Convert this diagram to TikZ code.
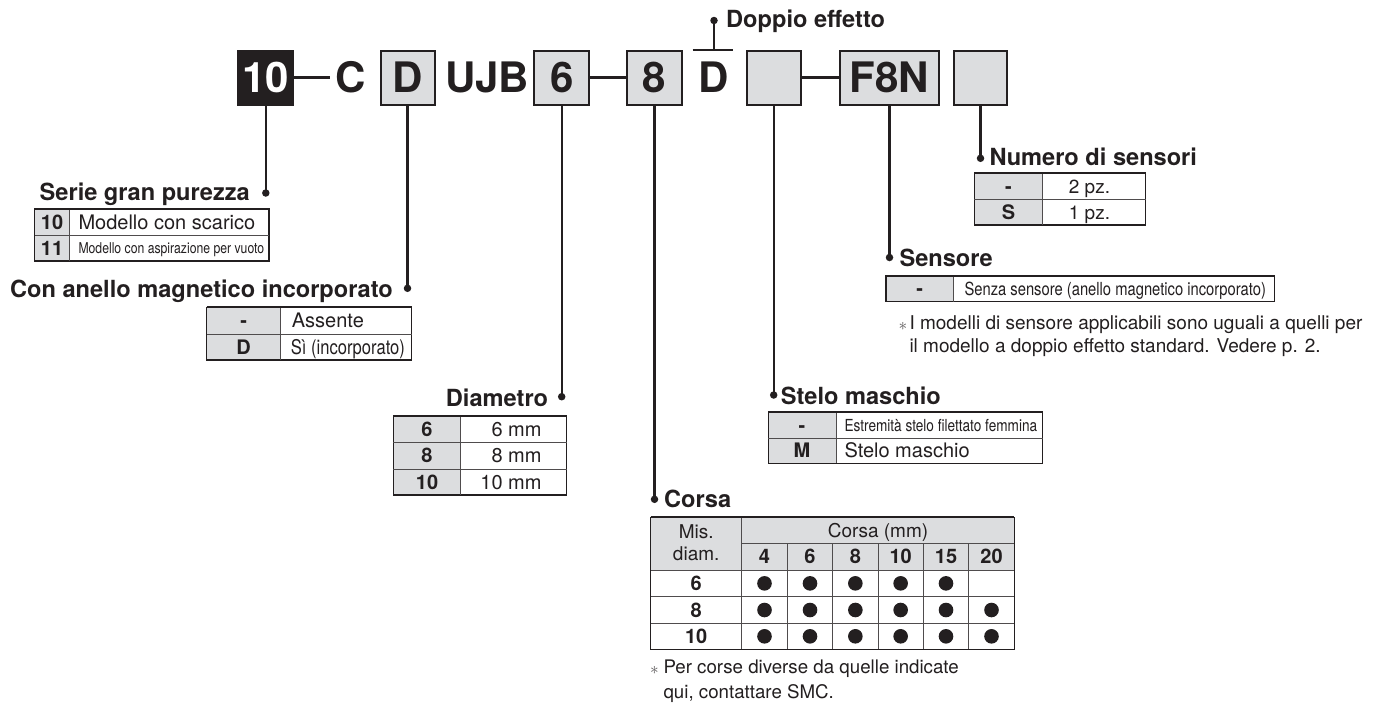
\documentclass[tikz,border=0pt]{standalone}
\usepackage{fontspec}
\setmainfont{TeX Gyre Heros}
\newfontfamily\condfont{TeX Gyre Heros}[FakeStretch=0.82]
\definecolor{ink}{HTML}{231F20}
\definecolor{cellgray}{HTML}{DCDDDF}
\begin{document}
\begin{tikzpicture}[x=1pt,y=-1pt,
  conn/.style={draw=ink, line width=2.2pt},
  knob/.style={circle, fill=ink, inner sep=0pt, minimum size=7.5pt},
  codebox/.style={draw=ink, line width=2pt, fill=cellgray, inner sep=0pt,
    minimum height=54pt, text height=30pt, text depth=0pt,
    font=\fontsize{42}{42}\selectfont\bfseries, text=ink},
  codechar/.style={inner ysep=0pt, inner xsep=5pt, text height=30pt, text depth=0pt,
    font=\fontsize{42}{42}\selectfont\bfseries, text=ink},
  heading/.style={inner sep=0pt, font=\fontsize{23.6}{25}\selectfont\bfseries, text=ink},
  cell/.style={inner sep=0pt, text height=14pt, text depth=0pt,
    font=\fontsize{20}{21}\selectfont, text=ink},
  bcell/.style={cell, font=\fontsize{20}{21}\selectfont\bfseries},
  fnote/.style={inner sep=0pt, anchor=base west, font=\fontsize{19}{22}\selectfont, text=ink},
  star/.style={inner sep=0pt, text=ink!75, font=\fontsize{17}{17}\selectfont},
  tabrule/.style={draw=ink, line width=1.1pt},
  innerrule/.style={draw=ink!80, line width=1pt},
  topline/.style={draw=ink, line width=1.8pt},
]
\fill[white] (0,0) rectangle (1374,702);
\useasboundingbox (0,0) rectangle (1374,702);

% ---------- model code ----------
\node[codebox, fill=ink, text=white, minimum width=55pt] (b10) at (265.8,77.5) {10};
\node[codechar] (cC) at (350.8,77.5) {C};
\node[codebox, minimum width=54pt] (bD) at (407.5,77.5) {D};
\node[codechar] (cUJB) at (487.3,77.5) {UJB};
\node[codebox, minimum width=55pt] (b6) at (561.7,77.5) {6};
\node[codebox, minimum width=54.5pt] (b8) at (654.5,77.5) {8};
\node[codechar] (cD) at (714,77.5) {D};
\node[codebox, minimum width=54pt] (bE) at (773.7,77.5) {};
\node[codebox, minimum width=99pt] (bF) at (889.5,77.5) {F8N};
\node[codebox, minimum width=52.4pt] (bL) at (980.5,77.5) {};

\draw[conn] (b10.east) -- (cC.west);
\draw[conn] (b6.east) -- (b8.west);
\draw[conn] (bE.east) -- (bF.west);

% fixed letter D: double acting
\coordinate (barL) at (692.7,50);
\coordinate (barR) at (732.7,50);
\coordinate (barM) at (714,50);
\draw[conn] (barL) -- (barR);
\node[knob] (kDop) at (714,20.5) {};
\draw[conn] (barM) -- (kDop.center);
\node[heading, anchor=base west] (tDop) at (726,27.3) {Doppio effetto};

% ---------- headings and leaders ----------
\node[knob] (kSerie) at (265.8,193) {};
\node[heading, anchor=base east] (tSerie) at (250,200.7) {Serie gran purezza};
\node[knob] (kMag) at (407.5,288.3) {};
\node[heading, anchor=base east] (tMag) at (393,297) {Con anello magnetico incorporato};
\node[knob] (kDia) at (561.7,396.7) {};
\node[heading, anchor=base east] (tDia) at (548.3,406) {Diametro};
\node[knob] (kCor) at (654.5,499.3) {};
\node[heading, anchor=base west] (tCor) at (664,507.7) {Corsa};
\node[knob] (kSte) at (773.7,395) {};
\node[heading, anchor=base west] (tSte) at (780.7,404) {Stelo maschio};
\node[knob] (kSen) at (889.5,257.5) {};
\node[heading, anchor=base west] (tSen) at (899.3,266.7) {Sensore};
\node[knob] (kNum) at (980.5,158.3) {};
\node[heading, anchor=base west] (tNum) at (989.3,165) {Numero di sensori};

\draw[conn] (b10.south) -- (kSerie.center);
\draw[conn] (bD.south) -- (kMag.center);
\draw[conn] (b6.south) -- (kDia.center);
\draw[conn] (b8.south) -- (kCor.center);
\draw[conn] (bE.south) -- (kSte.center);
\draw[conn] (bF.south) -- (kSen.center);
\draw[conn] (bL.south) -- (kNum.center);

% ---------- Serie gran purezza ----------
\fill[cellgray] (34.7,209) rectangle (69.3,261);
\draw[tabrule] (34.7,209) rectangle (269,261);
\draw[innerrule] (34.7,235.7) -- (269,235.7) (69.3,209) -- (69.3,261);
\draw[topline] (34.7,209) -- (269,209);
\node[bcell] at (52,222.3) {10};
\node[cell, anchor=west] at (78.3,222.3) {Modello con scarico};
\node[bcell] at (52,248.3) {11};
\node[cell, anchor=west, font=\condfont\fontsize{14.9}{15}\selectfont, text height=10.7pt] at (78.3,248.3) {Modello con aspirazione per vuoto};

% ---------- Con anello magnetico incorporato ----------
\fill[cellgray] (206.7,307.3) rectangle (280.7,360);
\draw[tabrule] (206.7,307.3) rectangle (411.7,360);
\draw[innerrule] (206.7,334.3) -- (411.7,334.3) (280.7,307.3) -- (280.7,360);
\draw[topline] (206.7,307.3) -- (411.7,307.3);
\node[bcell] at (243.7,320.8) {-};
\node[cell, anchor=west] at (291.7,320.8) {Assente};
\node[bcell] at (243.7,347.2) {D};
\node[cell, anchor=west, font=\condfont\fontsize{20.2}{21}\selectfont, text height=14.5pt] at (290.7,347.2) {Sì (incorporato)};

% ---------- Diametro ----------
\fill[cellgray] (393.3,415.7) rectangle (460.7,495);
\draw[tabrule] (393.3,415.7) rectangle (566.7,495);
\draw[innerrule] (393.3,442.3) -- (566.7,442.3) (393.3,469) -- (566.7,469) (460.7,415.7) -- (460.7,495);
\draw[topline] (393.3,415.7) -- (566.7,415.7);
\node[bcell] at (427,429) {6};
\node[cell, anchor=east] at (541.7,429) {6 mm};
\node[bcell] at (427,455.7) {8};
\node[cell, anchor=east] at (541.7,455.7) {8 mm};
\node[bcell] at (427,482) {10};
\node[cell, anchor=east] at (541.7,482) {10 mm};

% ---------- Stelo maschio ----------
\fill[cellgray] (768.3,411.7) rectangle (836,463.3);
\draw[tabrule] (768.3,411.7) rectangle (1042.7,463.3);
\draw[innerrule] (768.3,438.3) -- (1042.7,438.3) (836,411.7) -- (836,463.3);
\draw[topline] (768.3,411.7) -- (1042.7,411.7);
\node[bcell] at (802,425) {-};
\node[cell, anchor=west, font=\condfont\fontsize{16.6}{17}\selectfont, text height=12pt] at (844.3,425) {Estremità stelo filettato femmina};
\node[bcell] at (802,450.8) {M};
\node[cell, anchor=west] at (844.3,450.8) {Stelo maschio};

% ---------- Numero di sensori ----------
\fill[cellgray] (974.3,172.7) rectangle (1042.7,225);
\draw[tabrule] (974.3,172.7) rectangle (1145.7,225);
\draw[innerrule] (974.3,199.7) -- (1145.7,199.7) (1042.7,172.7) -- (1042.7,225);
\draw[topline] (974.3,172.7) -- (1145.7,172.7);
\node[bcell] at (1008.5,186.2) {-};
\node[cell, font=\fontsize{19}{20}\selectfont] at (1089.5,186.2) {2 pz.};
\node[bcell] at (1008.5,212.3) {S};
\node[cell, font=\fontsize{19}{20}\selectfont] at (1089.5,212.3) {1 pz.};

% ---------- Sensore ----------
\fill[cellgray] (886,275.7) rectangle (953.3,301.7);
\draw[tabrule] (886,275.7) rectangle (1274.3,301.7);
\draw[innerrule] (953.3,275.7) -- (953.3,301.7);
\draw[topline] (886,275.7) -- (1274.3,275.7);
\node[bcell] at (919.7,288.7) {-};
\node[cell, anchor=west, font=\condfont\fontsize{18}{18}\selectfont, text height=13pt] at (964.3,288.7) {Senza sensore (anello magnetico incorporato)};
\node[star] at (903,326) {$\ast$};
\node[fnote] at (909.3,329) {I modelli di sensore applicabili sono uguali a quelli per};
\node[fnote] at (909.3,352.3) {il modello a doppio effetto standard. Vedere p. 2.};

% ---------- Corsa ----------
\fill[cellgray] (650.7,517.3) rectangle (1014.3,570);
\draw[tabrule] (650.7,517.3) rectangle (1014.3,649.3);
\draw[innerrule] (741.7,543.3) -- (1014.3,543.3);
\foreach \yy in {570,596.7,623.3} \draw[innerrule] (650.7,\yy) -- (1014.3,\yy);
\draw[innerrule] (741.7,517.3) -- (741.7,649.3);
\foreach \xx in {787.3,832.7,878,923.3,968.7} \draw[innerrule] (\xx,543.3) -- (\xx,649.3);
\draw[topline] (650.7,517.3) -- (1014.3,517.3);
\node[cell, anchor=base, font=\fontsize{19}{20}\selectfont] at (696.2,538) {Mis.};
\node[cell, anchor=base, font=\fontsize{19}{20}\selectfont] at (696.2,560.5) {diam.};
\node[cell, font=\fontsize{19}{20}\selectfont] at (878,530.3) {Corsa (mm)};
\foreach \xx/\tt in {764.5/4,810/6,855.35/8,900.65/10,946/15,991.5/20}
  \node[bcell] at (\xx,556.65) {\tt};
\node[bcell] at (696.2,583.35) {6};
\node[bcell] at (696.2,610) {8};
\node[bcell] at (696.2,636.3) {10};
\foreach \xx in {764.5,810,855.35,900.65,946}
  \fill[ink] (\xx,583.35) circle (7.3pt);
\foreach \yy in {610,636.3}
  \foreach \xx in {764.5,810,855.35,900.65,946,991.5}
    \fill[ink] (\xx,\yy) circle (7.3pt);
\node[star] at (654.5,670) {$\ast$};
\node[fnote, font=\fontsize{18.7}{22}\selectfont] at (663.3,673.3) {Per corse diverse da quelle indicate};
\node[fnote, font=\fontsize{18.7}{22}\selectfont] at (663.3,698.3) {qui, contattare SMC.};
\end{tikzpicture}
\end{document}
